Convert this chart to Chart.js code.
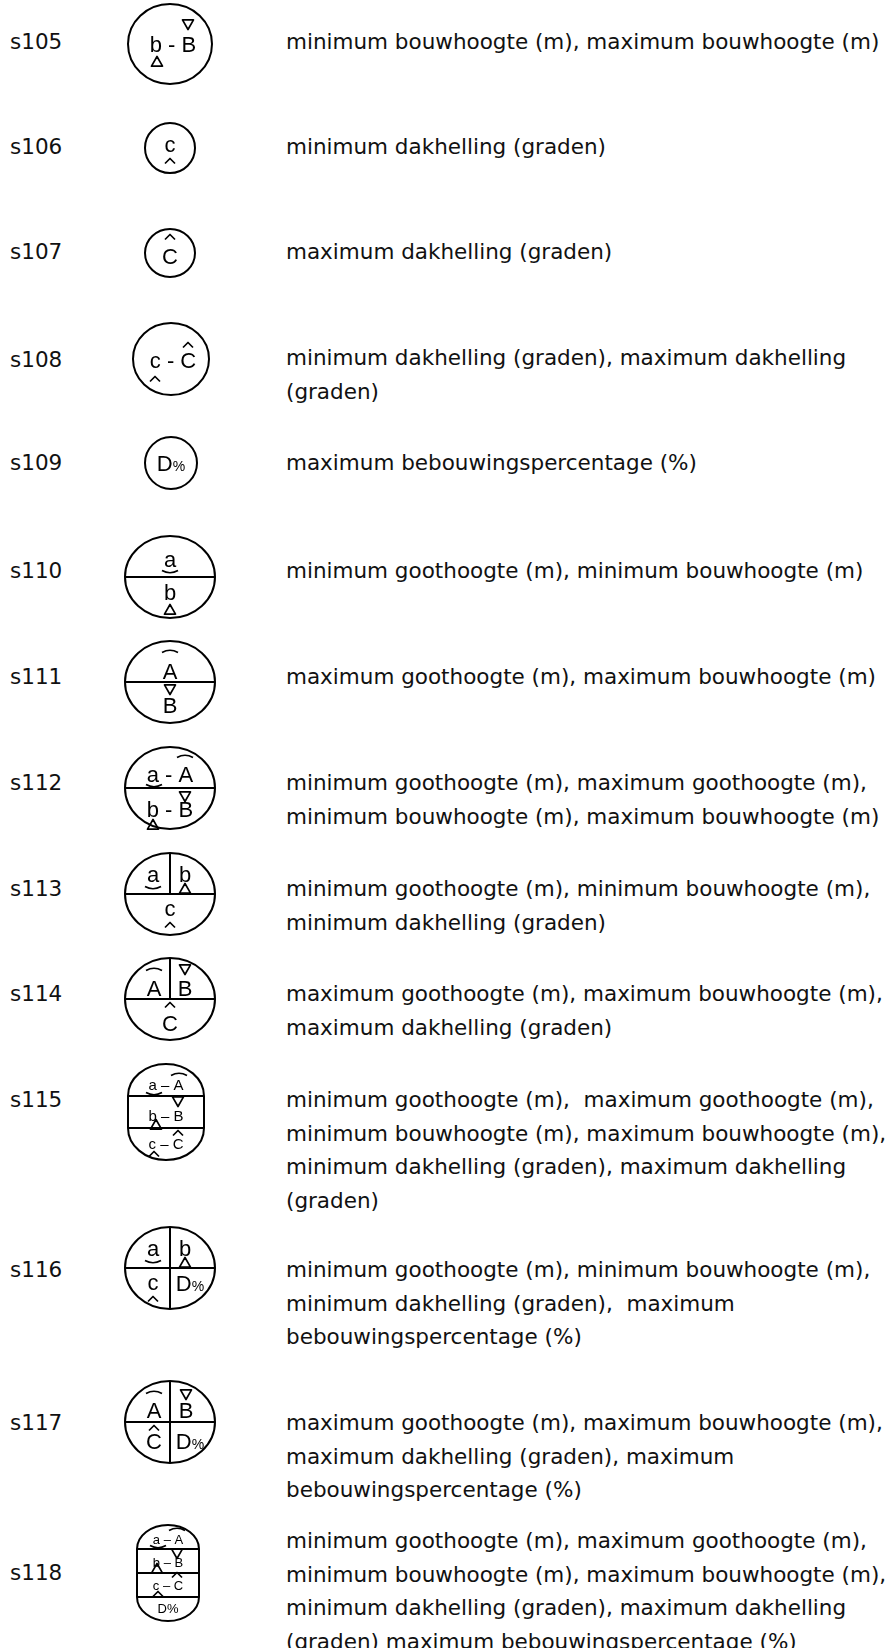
<!DOCTYPE html>
<html>
<head>
<meta charset="utf-8">
<script src="https://cdn.jsdelivr.net/npm/chart.js@4"></script>
<style>
  html, body { margin: 0; padding: 0; background: #fff; }
  #page { position: relative; width: 891px; height: 1648px; overflow: hidden; }
  .code, .desc { position: absolute; font-family: "DejaVu Sans", Verdana, sans-serif; font-size: 21.5px; line-height: 33.5px; color: #111; white-space: pre; }
  .code { left: 10px; }
  .desc { left: 286px; }
  .sym { position: absolute; width: 120px; height: 120px; }
</style>
</head>
<body>
<div id="page"></div>
<script>
// codes and their descriptions (one entry per line, as wrapped in the legend)
const codes = ['s105', 's106', 's107', 's108', 's109', 's110', 's111', 's112', 's113', 's114', 's115', 's116', 's117', 's118'];
const descriptions = [
    ['minimum bouwhoogte (m), maximum bouwhoogte (m)'],
    ['minimum dakhelling (graden)'],
    ['maximum dakhelling (graden)'],
    ['minimum dakhelling (graden), maximum dakhelling', '(graden)'],
    ['maximum bebouwingspercentage (%)'],
    ['minimum goothoogte (m), minimum bouwhoogte (m)'],
    ['maximum goothoogte (m), maximum bouwhoogte (m)'],
    ['minimum goothoogte (m), maximum goothoogte (m),', 'minimum bouwhoogte (m), maximum bouwhoogte (m)'],
    ['minimum goothoogte (m), minimum bouwhoogte (m),', 'minimum dakhelling (graden)'],
    ['maximum goothoogte (m), maximum bouwhoogte (m),', 'maximum dakhelling (graden)'],
    ['minimum goothoogte (m),  maximum goothoogte (m),', 'minimum bouwhoogte (m), maximum bouwhoogte (m),', 'minimum dakhelling (graden), maximum dakhelling', '(graden)'],
    ['minimum goothoogte (m), minimum bouwhoogte (m),', 'minimum dakhelling (graden),  maximum', 'bebouwingspercentage (%)'],
    ['maximum goothoogte (m), maximum bouwhoogte (m),', 'maximum dakhelling (graden), maximum', 'bebouwingspercentage (%)'],
    ['minimum goothoogte (m), maximum goothoogte (m),', 'minimum bouwhoogte (m), maximum bouwhoogte (m),', 'minimum dakhelling (graden), maximum dakhelling', '(graden) maximum bebouwingspercentage (%)']
];

// layout: vertical centre of each row (code, first description line, symbol)
const codeY = [42, 147, 252, 360, 463, 571, 677, 783, 889, 994, 1100, 1270, 1423, 1573];
const descY = [42, 147, 252, 358, 463, 571, 677, 783, 889, 994, 1100, 1270, 1423, 1541];
const symY  = [44, 148, 253, 359, 463, 577, 682, 788, 894, 999, 1112, 1268, 1422, 1573];
const symX  = [170, 170, 170, 171, 171, 170, 170, 170, 170, 170, 166, 170, 170, 168];

const F = 22;   // main letter size inside the symbols
// symbol drawing instructions, in pixels around the symbol centre
const symbols = {
    s105: [['ellipse', 42, 40], ['text', 'b - B', 3, 8, F], ['triDown', 18, -20], ['triUp', -13, 18]],
    s106: [['ellipse', 25, 25], ['text', 'c', 0, 4, F], ['caret', 0, 13]],
    s107: [['ellipse', 25, 24], ['text', 'C', 0, 11, F], ['caret', 0, -16]],
    s108: [['ellipse', 38, 36], ['text', 'c - C', 2, 9, F], ['caret', 17, -14], ['caret', -16, 20]],
    s109: [['ellipse', 26, 26], ['textD', 0, 8, F]],
    s110: [['ellipse', 45, 41], ['hline', 0], ['text', 'a', 0, -10, F], ['arcUnder', 0, -5], ['text', 'b', 0, 23, F], ['triUp', 0, 33]],
    s111: [['ellipse', 45, 41], ['hline', 0], ['arcOver', 0, -31], ['text', 'A', 0, -3, F], ['triDown', 0, 7], ['text', 'B', 0, 31, F]],
    s112: [['ellipse', 45, 41], ['hline', 0], ['text', 'a - A', 0, -6, F], ['arcUnder', -16, -2], ['arcOver', 15, -32], ['text', 'b - B', 0, 29, F], ['triDown', 15, 8], ['triUp', -17, 37]],
    s113: [['ellipse', 45, 41], ['hline', 0], ['vline', -1], ['text', 'a', -17, -12, F], ['arcUnder', -17, -6], ['text', 'b', 15, -12, F], ['triUp', 15, -5], ['text', 'c', 0, 22, F], ['caret', 0, 31]],
    s114: [['ellipse', 45, 41], ['hline', 0], ['vline', -1], ['arcOver', -16, -30], ['text', 'A', -16, -3, F], ['triDown', 15, -30], ['text', 'B', 15, -3, F], ['caret', 0, 6], ['text', 'C', 0, 32, F]],
    s115: [['capsule', 38, 32, 16], ['hline', -16], ['hline', 16], ['text', 'a \u2013 A', 0, -22, 15], ['arcUnder', -12, -18], ['arcOver', 13, -38],
           ['text', 'b \u2013 B', 0, 9, 15], ['triDown', 12, -11], ['triUp', -10, 13], ['text', 'c \u2013 C', 0, 37, 15], ['caret', 12, 21], ['caret', -12, 42]],
    s116: [['ellipse', 45, 41], ['hline', 0], ['vline', 1], ['text', 'a', -17, -12, F], ['arcUnder', -17, -6], ['text', 'b', 15, -12, F], ['triUp', 15, -5],
           ['text', 'c', -17, 22, F], ['caret', -17, 31], ['textD', 20, 23, F]],
    s117: [['ellipse', 45, 41], ['hline', 0], ['vline', 1], ['arcOver', -16, -30], ['text', 'A', -16, -4, F], ['triDown', 16, -28], ['text', 'B', 16, -4, F],
           ['caret', -16, 6], ['text', 'C', -16, 27, F], ['textD', 20, 27, F]],
    s118: [['capsule', 31, 24, 24], ['hline', -24], ['hline', 0], ['hline', 24], ['text', 'a \u2013 A', 0, -29, 13], ['arcUnder', -10, -26], ['arcOver', 9, -44],
           ['text', 'b \u2013 B', 0, -6, 13], ['triDown', 9, -20], ['triUp', -11, -4], ['text', 'c \u2013 C', 0, 17, 13], ['caret', 9, 2], ['caret', -10, 21], ['text', 'D%', 0, 40, 13]]
};

const page = document.getElementById('page');

codes.forEach((code, i) => {
    const c = document.createElement('div');
    c.className = 'code';
    c.textContent = code;
    c.style.top = (codeY[i] - 16.75) + 'px';
    page.appendChild(c);

    const d = document.createElement('div');
    d.className = 'desc';
    d.textContent = descriptions[i].join('\n');
    d.style.top = (descY[i] - 16.75) + 'px';
    page.appendChild(d);
});

// draws one legend symbol through the chart's own x/y scales
const symbolPlugin = {
    id: 'symbol',
    afterDraw(chart) {
        const ops = chart.options.plugins.symbol.ops;
        const xs = chart.scales.x, ys = chart.scales.y;
        const X = v => xs.getPixelForValue(v);
        const Y = v => ys.getPixelForValue(v);
        const ctx = chart.ctx;
        const font = s => s + 'px "Liberation Sans", Arial, sans-serif';
        let shape = null;
        ctx.save();
        ctx.strokeStyle = '#000';
        ctx.fillStyle = '#000';
        ctx.lineJoin = 'round';
        ctx.textAlign = 'center';
        ctx.textBaseline = 'alphabetic';

        const halfWidthAt = y => {
            if (shape[0] === 'ellipse') {
                const t = 1 - (y * y) / (shape[2] * shape[2]);
                return t > 0 ? shape[1] * Math.sqrt(t) : 0;
            }
            return shape[1];
        };

        ops.forEach(op => {
            const k = op[0];
            ctx.lineWidth = 2;
            if (k === 'ellipse') {
                shape = op;
                ctx.beginPath();
                ctx.ellipse(X(0), Y(0), op[1], op[2], 0, 0, Math.PI * 2);
                ctx.stroke();
            } else if (k === 'capsule') {
                shape = op;
                const [, hw, cap, half] = op;
                ctx.beginPath();
                ctx.ellipse(X(0), Y(-half), hw, cap, 0, Math.PI, 0);
                ctx.lineTo(X(hw), Y(half));
                ctx.ellipse(X(0), Y(half), hw, cap, 0, 0, Math.PI);
                ctx.closePath();
                ctx.stroke();
            } else if (k === 'hline') {
                const w = halfWidthAt(op[1]);
                ctx.beginPath();
                ctx.moveTo(X(-w), Y(op[1]));
                ctx.lineTo(X(w), Y(op[1]));
                ctx.stroke();
            } else if (k === 'vline') {
                // -1: upper half only, 1: full height
                const top = -shape[2];
                const bottom = op[1] < 0 ? 0 : shape[2];
                ctx.beginPath();
                ctx.moveTo(X(0), Y(top));
                ctx.lineTo(X(0), Y(bottom));
                ctx.stroke();
            } else if (k === 'text') {
                ctx.font = font(op[4]);
                ctx.fillText(op[1], X(op[2]), Y(op[3]));
            } else if (k === 'textD') {
                const size = op[3], small = Math.round(size * 0.62);
                ctx.font = font(size);
                const wD = ctx.measureText('D').width;
                ctx.font = font(small);
                const wP = ctx.measureText('%').width;
                const x0 = X(op[1]) - (wD + wP) / 2;
                ctx.textAlign = 'left';
                ctx.font = font(size);
                ctx.fillText('D', x0, Y(op[2]));
                ctx.font = font(small);
                ctx.fillText('%', x0 + wD, Y(op[2]));
                ctx.textAlign = 'center';
            } else if (k === 'triUp' || k === 'triDown') {
                const s = 5.5, dir = k === 'triUp' ? 1 : -1;
                ctx.lineWidth = 1.7;
                ctx.beginPath();
                ctx.moveTo(X(op[1]), Y(op[2] - dir * s));
                ctx.lineTo(X(op[1] + s), Y(op[2] + dir * s * 0.75));
                ctx.lineTo(X(op[1] - s), Y(op[2] + dir * s * 0.75));
                ctx.closePath();
                ctx.stroke();
            } else if (k === 'caret') {
                ctx.lineWidth = 1.7;
                ctx.beginPath();
                ctx.moveTo(X(op[1] - 5), Y(op[2] + 2.5));
                ctx.lineTo(X(op[1]), Y(op[2] - 2.5));
                ctx.lineTo(X(op[1] + 5), Y(op[2] + 2.5));
                ctx.stroke();
            } else if (k === 'arcOver' || k === 'arcUnder') {
                const dir = k === 'arcOver' ? -1 : 1;
                ctx.lineWidth = 1.7;
                ctx.beginPath();
                ctx.moveTo(X(op[1] - 8), Y(op[2] - dir * 1.5));
                ctx.quadraticCurveTo(X(op[1]), Y(op[2] + dir * 3), X(op[1] + 8), Y(op[2] - dir * 1.5));
                ctx.stroke();
            }
        });
        ctx.restore();
    }
};

codes.forEach((code, i) => {
    const cv = document.createElement('canvas');
    cv.className = 'sym';
    cv.width = 120;
    cv.height = 120;
    cv.style.left = (symX[i] - 60) + 'px';
    cv.style.top = (symY[i] - 60) + 'px';
    page.appendChild(cv);

    new Chart(cv, {
        type: 'scatter',
        data: { datasets: [{ data: [], pointRadius: 0 }] },
        options: {
            responsive: false,
            animation: false,
            events: [],
            layout: { padding: 0 },
            scales: {
                x: { display: false, min: -60, max: 60 },
                y: { display: false, min: -60, max: 60, reverse: true }
            },
            plugins: { legend: { display: false }, tooltip: { enabled: false }, symbol: { ops: symbols[code] } }
        },
        plugins: [symbolPlugin]
    });
});
</script>
</body>
</html>
